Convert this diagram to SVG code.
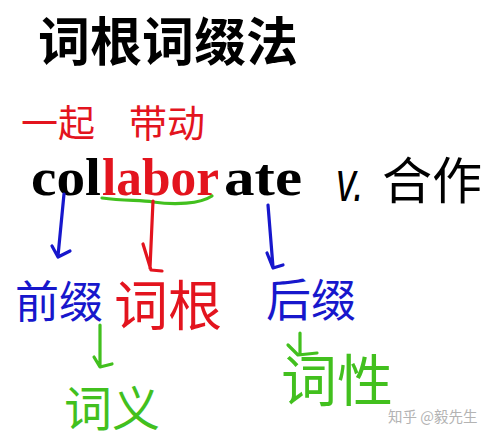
<svg xmlns="http://www.w3.org/2000/svg" width="492" height="439" viewBox="0 0 492 439">
<style>
.cjk{font-family:"Noto Sans CJK SC","Noto Sans",sans-serif}
.red{fill:#e3141e}
.blue{fill:#1717cc}
.green{fill:#42c01e}
.blk{fill:#000}
.c{fill:none;stroke-width:3.2;stroke-linecap:round;stroke-linejoin:round}
.cr{stroke:#e3141e}
.cb{stroke:#1717cc}
.cg{stroke:#42c01e}
</style>
<rect width="492" height="439" fill="#fff"/>
<g id="title"><text class="cjk blk" x="38" y="61" font-size="52" font-weight="700">词根词缀法</text></g>
<g id="gloss-yiqi"><text class="cjk red" x="21" y="137" font-size="37">一起</text></g>
<g id="gloss-daidong"><text class="cjk red" x="129" y="137" font-size="38">带动</text></g>
<g id="word"><text x="31" y="195" font-family="'Liberation Serif',serif" font-weight="700" font-size="52"><tspan class="blk" x="31" textLength="70" lengthAdjust="spacingAndGlyphs">col</tspan><tspan class="red" x="102" textLength="117" lengthAdjust="spacingAndGlyphs">labor</tspan><tspan class="blk" x="224" textLength="78" lengthAdjust="spacingAndGlyphs">ate</tspan></text></g>
<g id="meaning"><text class="blk" transform="translate(336,201) scale(1,1.35)" font-family="'Liberation Sans',sans-serif" font-style="italic" font-size="42" textLength="28" lengthAdjust="spacingAndGlyphs">v.</text><text class="cjk blk" x="382" y="199" font-size="50">合作</text></g>
<g id="prefix"><text class="cjk blue" x="15" y="318" font-size="44">前缀</text></g>
<g id="root"><text class="cjk red" x="114" y="326" font-size="54">词根</text></g>
<g id="suffix"><text class="cjk blue" x="266" y="317" font-size="45">后缀</text></g>
<g id="meaning-node"><text class="cjk green" x="64" y="426" font-size="48">词义</text></g>
<g id="pos-node"><text class="cjk green" x="281" y="401" font-size="56">词性</text></g>
<g id="connectors">
<path class="c cg" d="M102,198 C125,201 140,200 153,202 C175,205 200,204 212,196"/>
<path class="c cb" d="M64,194 L58,256 M52,246 L58,257 L70,251"/>
<path class="c cr" d="M153,201 L150,268 M143,244 L151,270 L162,271"/>
<path class="c cb" d="M268,205 L273,267 M267,253 L273,268 L283,265"/>
<path class="c cg" d="M100,325 L100,366 M94,357 L100,367 L112,364"/>
<path class="c cg" d="M300,333 L300,354 M288,345 L298,355 L317,353"/>
</g>
<g id="watermark"><text class="cjk" x="388" y="422" font-size="14.5" fill="#b3b3b3">知乎 @毅先生</text></g>
</svg>
